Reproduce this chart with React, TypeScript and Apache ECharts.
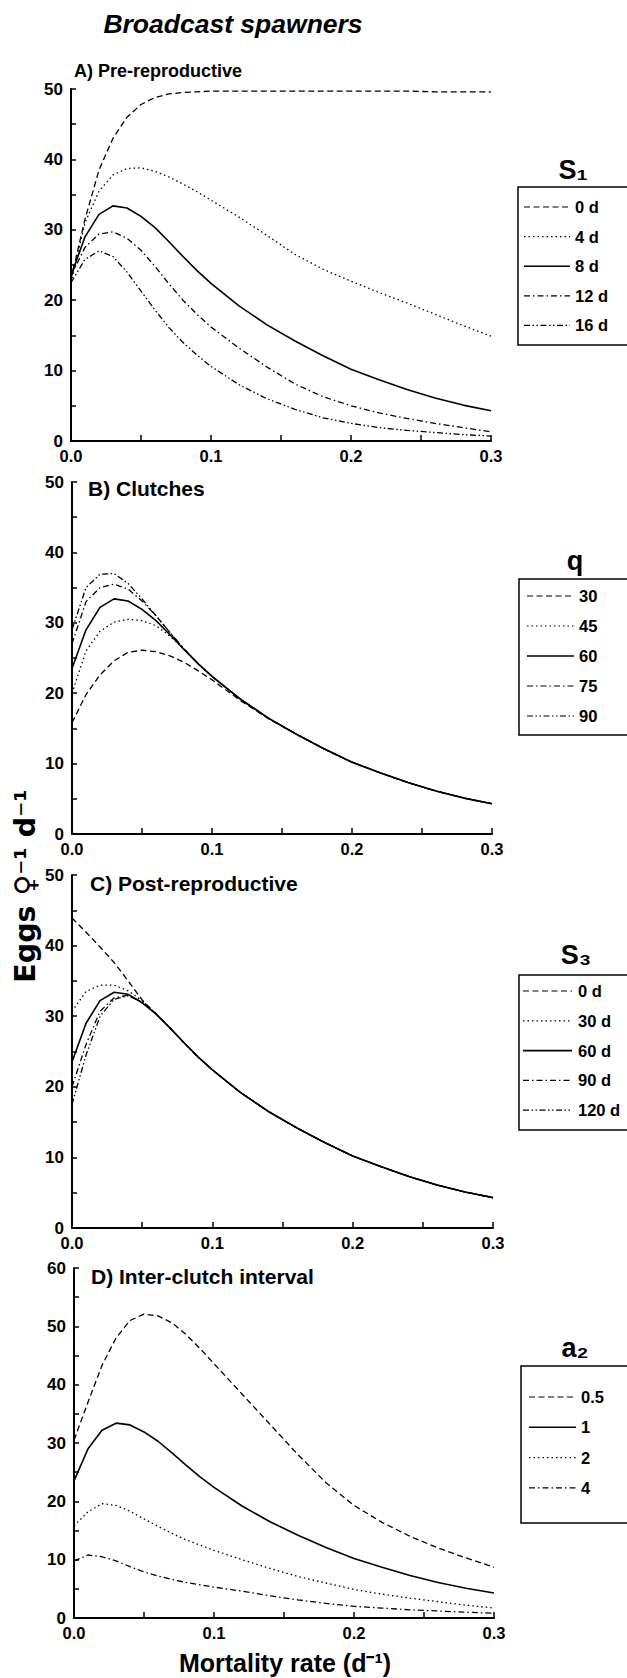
import { useEffect, useRef } from "react";
import * as echarts from "echarts";

// Mortality rate (d^-1) sample points
const X = [0, 0.01, 0.02, 0.03, 0.04, 0.05, 0.06, 0.07, 0.08, 0.09, 0.1, 0.12, 0.14, 0.16, 0.18, 0.2, 0.22, 0.24, 0.26, 0.28, 0.3];

// Panel A: Pre-reproductive (S1)
const A_0d = [23.0, 31.5, 38.5, 43.0, 46.0, 47.8, 48.8, 49.3, 49.5, 49.6, 49.7, 49.7, 49.7, 49.7, 49.7, 49.7, 49.7, 49.7, 49.6, 49.6, 49.6];
const A_4d = [22.5, 31.0, 35.5, 37.8, 38.7, 38.8, 38.3, 37.5, 36.5, 35.4, 34.2, 31.8, 29.2, 26.5, 24.4, 22.7, 21.1, 19.6, 18.0, 16.4, 14.9];
const A_8d = [23.5, 29.0, 32.2, 33.4, 33.1, 31.9, 30.3, 28.3, 26.2, 24.2, 22.4, 19.2, 16.5, 14.2, 12.1, 10.2, 8.7, 7.3, 6.1, 5.1, 4.3];
const A_12d = [23.5, 27.5, 29.4, 29.7, 28.8, 27.1, 24.8, 22.3, 20.0, 18.0, 16.2, 13.2, 10.5, 8.1, 6.3, 5.0, 4.0, 3.2, 2.5, 1.9, 1.3];
const A_16d = [22.5, 25.8, 27.0, 26.2, 24.0, 21.3, 18.6, 16.1, 14.0, 12.2, 10.6, 8.0, 6.0, 4.5, 3.3, 2.5, 1.9, 1.5, 1.2, 0.9, 0.7];

// Panel B: Clutches (q)
const B_30 = [15.8, 19.8, 22.6, 24.6, 25.8, 26.1, 25.9, 25.3, 24.4, 23.2, 21.9, 19.0, 16.4, 14.2, 12.1, 10.2, 8.7, 7.3, 6.1, 5.1, 4.3];
const B_45 = [20.0, 26.0, 28.8, 30.1, 30.5, 30.3, 29.6, 28.1, 26.3, 24.2, 22.4, 19.2, 16.5, 14.2, 12.1, 10.2, 8.7, 7.3, 6.1, 5.1, 4.3];
const B_60 = [23.5, 29.0, 32.2, 33.4, 33.1, 31.9, 30.3, 28.3, 26.2, 24.2, 22.4, 19.2, 16.5, 14.2, 12.1, 10.2, 8.7, 7.3, 6.1, 5.1, 4.3];
const B_75 = [27.0, 33.0, 35.0, 35.5, 34.8, 33.1, 31.0, 28.6, 26.3, 24.2, 22.4, 19.2, 16.5, 14.2, 12.1, 10.2, 8.7, 7.3, 6.1, 5.1, 4.3];
const B_90 = [29.0, 35.0, 36.9, 37.0, 35.6, 33.4, 31.0, 28.6, 26.3, 24.2, 22.4, 19.2, 16.5, 14.2, 12.1, 10.2, 8.7, 7.3, 6.1, 5.1, 4.3];

// Panel C: Post-reproductive (S3)
const C_0d = [43.9, 41.9, 39.8, 37.6, 35.0, 32.3, 30.3, 28.3, 26.2, 24.2, 22.4, 19.2, 16.5, 14.2, 12.1, 10.2, 8.7, 7.3, 6.1, 5.1, 4.3];
const C_30d = [30.7, 33.5, 34.4, 34.4, 33.6, 32.2, 30.3, 28.3, 26.2, 24.2, 22.4, 19.2, 16.5, 14.2, 12.1, 10.2, 8.7, 7.3, 6.1, 5.1, 4.3];
const C_60d = [23.5, 29.0, 32.2, 33.4, 33.1, 31.9, 30.3, 28.3, 26.2, 24.2, 22.4, 19.2, 16.5, 14.2, 12.1, 10.2, 8.7, 7.3, 6.1, 5.1, 4.3];
const C_90d = [20.0, 26.0, 30.7, 32.6, 33.0, 32.0, 30.3, 28.3, 26.2, 24.2, 22.4, 19.2, 16.5, 14.2, 12.1, 10.2, 8.7, 7.3, 6.1, 5.1, 4.3];
const C_120d = [17.5, 24.5, 30.0, 32.4, 32.9, 32.0, 30.3, 28.3, 26.2, 24.2, 22.4, 19.2, 16.5, 14.2, 12.1, 10.2, 8.7, 7.3, 6.1, 5.1, 4.3];

// Panel D: Inter-clutch interval (a2)
const D_05 = [30.5, 37.0, 43.3, 48.0, 51.0, 52.1, 51.8, 50.6, 48.6, 46.2, 43.6, 38.4, 33.2, 28.0, 23.2, 19.3, 16.4, 14.0, 12.0, 10.3, 8.7];
const D_1 = [23.5, 29.0, 32.2, 33.4, 33.1, 31.9, 30.3, 28.3, 26.2, 24.2, 22.4, 19.2, 16.5, 14.2, 12.1, 10.2, 8.7, 7.3, 6.1, 5.1, 4.3];
const D_2 = [15.8, 18.2, 19.6, 19.3, 18.3, 17.0, 15.7, 14.5, 13.4, 12.5, 11.6, 10.0, 8.5, 7.1, 6.0, 4.9, 4.1, 3.4, 2.8, 2.2, 1.7];
const D_4 = [9.8, 10.8, 10.5, 9.8, 8.8, 7.9, 7.2, 6.6, 6.1, 5.7, 5.3, 4.6, 3.8, 3.1, 2.5, 2.0, 1.7, 1.4, 1.2, 1.0, 0.8];

// Text
const TITLE = "Broadcast spawners";
const PANEL_TITLES = ["A) Pre-reproductive", "B) Clutches", "C) Post-reproductive", "D) Inter-clutch interval"];
const LEGEND_TITLES = ["S\u2081", "q", "S\u2083", "a\u2082"];
const LEGEND_A = ["0 d", "4 d", "8 d", "12 d", "16 d"];
const LEGEND_B = ["30", "45", "60", "75", "90"];
const LEGEND_C = ["0 d", "30 d", "60 d", "90 d", "120 d"];
const LEGEND_D = ["0.5", "1", "2", "4"];
const Y_NAME = "Eggs \u2640\u207B\u00B9 d\u207B\u00B9";
const X_NAME = "Mortality rate (d\u207B\u00B9)";
const Y_MAX = [50, 50, 50, 60];

const FONT = "'Liberation Sans', Arial, Helvetica, sans-serif";

type Dash = number[] | "solid";
const DASHED: Dash = [6, 3.5];
const DOTTED: Dash = [1.5, 3];
const DASHDOT: Dash = [6, 3, 1.5, 3];
const DASHDOTDOT: Dash = [6, 2.5, 1.5, 2.5, 1.5, 2.5];
const SOLID: Dash = "solid";
const STYLES5: Dash[] = [DASHED, DOTTED, SOLID, DASHDOT, DASHDOTDOT];
const STYLES_D: Dash[] = [DASHED, SOLID, DOTTED, DASHDOT];

const PANEL_SERIES = [
  [A_0d, A_4d, A_8d, A_12d, A_16d],
  [B_30, B_45, B_60, B_75, B_90],
  [C_0d, C_30d, C_60d, C_90d, C_120d],
  [D_05, D_1, D_2, D_4],
];
const PANEL_STYLES = [STYLES5, STYLES5, STYLES5, STYLES_D];
const PANEL_LEGENDS = [LEGEND_A, LEGEND_B, LEGEND_C, LEGEND_D];

// layout (pixels)
const GRIDS = [
  { left: 71, top: 89, width: 420, height: 352 },
  { left: 72, top: 482, width: 420, height: 352 },
  { left: 72, top: 875, width: 421, height: 353 },
  { left: 74, top: 1268, width: 420, height: 350 },
];
const PANEL_TITLE_POS = [
  { x: 74, y: 71, size: 18 },
  { x: 88, y: 488, size: 21 },
  { x: 90, y: 883, size: 21 },
  { x: 91, y: 1276, size: 21 },
];
const LEGEND_POS = [
  { bx: 518, by: 187, bh: 158, tx: 573, ty: 170, iy: 207, step: 29.6, lx1: 524, lx2: 570, txt: 575 },
  { bx: 519, by: 579, bh: 156, tx: 575, ty: 561, iy: 596, step: 30, lx1: 527, lx2: 574, txt: 579 },
  { bx: 519, by: 975, bh: 155, tx: 576, ty: 955, iy: 991, step: 29.8, lx1: 523, lx2: 572, txt: 578 },
  { bx: 521, by: 1366, bh: 157, tx: 575, ty: 1348, iy: 1397, step: 30.3, lx1: 529, lx2: 576, txt: 581 },
];

function isTenth(v: number) {
  return Math.abs(v * 10 - Math.round(v * 10)) < 1e-6;
}

function textEl(x: number, y: number, text: string, size: number, align: string, extra: any = {}) {
  return {
    type: "text",
    x,
    y,
    silent: true,
    ...extra.el,
    style: {
      text,
      fill: "#000",
      fontFamily: extra.family || FONT,
      fontWeight: "bold",
      fontStyle: extra.italic ? "italic" : "normal",
      fontSize: size,
      align,
      textAlign: align,
      verticalAlign: "middle",
      textVerticalAlign: "middle",
    },
  };
}

function buildOption() {
  const grid = GRIDS.map((g) => ({ ...g, containLabel: false, outerBoundsMode: "none" }));
  const xAxis = GRIDS.map((_, i) => ({
    type: "value",
    gridIndex: i,
    min: 0,
    max: 0.3,
    interval: 0.05,
    axisLine: { show: true, onZero: false, lineStyle: { color: "#000", width: 2 } },
    axisTick: { show: true, inside: true, length: 6, lineStyle: { color: "#000", width: 1.5 } },
    splitLine: { show: false },
    axisLabel: {
      color: "#000",
      fontFamily: FONT,
      fontWeight: "bold",
      fontSize: 16.5,
      margin: 6,
      showMinLabel: true,
      showMaxLabel: true,
      formatter: (v: number) => (isTenth(v) ? v.toFixed(1) : ""),
    },
  }));
  const yAxis = GRIDS.map((_, i) => ({
    type: "value",
    gridIndex: i,
    min: 0,
    max: Y_MAX[i],
    interval: 5,
    axisLine: { show: true, onZero: false, lineStyle: { color: "#000", width: 2 } },
    axisTick: { show: true, inside: true, length: 5, lineStyle: { color: "#000", width: 1.5 } },
    splitLine: { show: false },
    axisLabel: {
      color: "#000",
      fontFamily: FONT,
      fontWeight: "bold",
      fontSize: 17,
      margin: 8,
      showMinLabel: true,
      showMaxLabel: true,
      formatter: (v: number) => (Math.round(v) % 10 === 0 ? String(Math.round(v)) : ""),
    },
  }));

  const series: any[] = [];
  PANEL_SERIES.forEach((list, i) => {
    list.forEach((vals, k) => {
      const st = PANEL_STYLES[i][k];
      series.push({
        type: "line",
        name: PANEL_LEGENDS[i][k],
        xAxisIndex: i,
        yAxisIndex: i,
        data: X.map((x, j) => [x, vals[j]]),
        symbol: "none",
        showSymbol: false,
        smooth: false,
        silent: true,
        clip: false,
        lineStyle: { color: "#000", width: st === SOLID ? 1.6 : 1.3, type: st },
      });
    });
  });

  const elements: any[] = [];
  elements.push(textEl(233, 24, TITLE, 26.5, "center", { italic: true }));
  PANEL_TITLES.forEach((t, i) => {
    const p = PANEL_TITLE_POS[i];
    elements.push(textEl(p.x, p.y, t, p.size, "left"));
  });
  elements.push(
    textEl(25, 886, Y_NAME, 28.5, "center", { family: "'DejaVu Sans', sans-serif", el: { rotation: Math.PI / 2 } })
  );
  elements.push(textEl(285, 1663, X_NAME, 25, "center"));

  LEGEND_POS.forEach((p, i) => {
    elements.push({
      type: "rect",
      silent: true,
      shape: { x: p.bx, y: p.by, width: 200, height: p.bh },
      style: { fill: "none", stroke: "#000", lineWidth: 1.5 },
    });
    elements.push(textEl(p.tx, p.ty, LEGEND_TITLES[i], 27, "center"));
    PANEL_LEGENDS[i].forEach((lab, k) => {
      const y = p.iy + k * p.step;
      const st = PANEL_STYLES[i][k];
      elements.push({
        type: "line",
        silent: true,
        shape: { x1: p.lx1, y1: y, x2: p.lx2, y2: y },
        style: {
          stroke: "#000",
          lineWidth: st === SOLID ? 1.6 : 1.2,
          lineDash: st === SOLID ? null : st,
        },
      });
      elements.push(textEl(p.txt, y, lab, 16.5, "left"));
    });
  });

  return {
    animation: false,
    backgroundColor: "#fff",
    grid,
    xAxis,
    yAxis,
    series,
    graphic: { elements },
  };
}

export default function App() {
  const ref = useRef<HTMLDivElement>(null);
  useEffect(() => {
    document.body.style.margin = "0";
    document.body.style.overflow = "hidden";
    const chart = echarts.init(ref.current!, null, { renderer: "svg" });
    chart.setOption(buildOption() as any);
    return () => chart.dispose();
  }, []);
  return <div ref={ref} style={{ width: 627, height: 1678 }} />;
}
